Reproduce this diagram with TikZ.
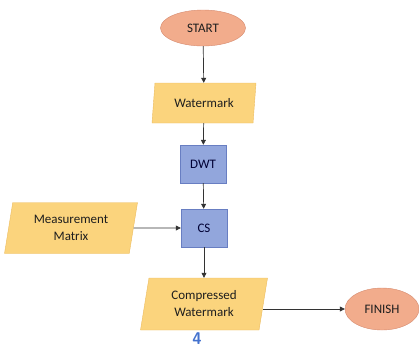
\documentclass[tikz,border=0pt]{standalone}
\usepackage{fontspec}
\setmainfont{Carlito}
\usetikzlibrary{shapes,arrows.meta}

\definecolor{termFill}{RGB}{242,172,140}
\definecolor{termLine}{RGB}{214,138,110}
\definecolor{ioFill}{RGB}{251,212,125}
\definecolor{ioLine}{RGB}{236,188,96}
\definecolor{procFill}{RGB}{146,166,220}
\definecolor{procLine}{RGB}{104,126,194}
\definecolor{txtDark}{RGB}{30,30,30}
\definecolor{numBlue}{RGB}{68,114,206}

\begin{document}
\begin{tikzpicture}[x=1pt,y=-1pt]
		\useasboundingbox (0,0) rectangle (419,349);
		\begin{scope}
            [
                every node/.style={font=\fontsize{13}{17}\selectfont, text=txtDark, align=center},
                styleTerm/.style={
					draw=termLine, fill=termFill, ellipse, inner sep=0pt
					},
				styleIO/.style={
					draw=ioLine, fill=ioFill, trapezium, inner sep=0pt,
					trapezium left angle=72, trapezium right angle=108,
					trapezium stretches body
					},
				styleProc/.style={draw=procLine, fill=procFill, minimum width=46, minimum height=38, text=black!80!blue},
            ]
			\node(start)[styleTerm, minimum width=85, minimum height=36] at (203,28) {START};
			\node(wm)[styleIO, minimum width=104, minimum height=40] at (204,103) {Watermark};
			\node(dwt)[styleProc] at (203,164) {DWT};
			\node(cs)[styleProc] at (204,228) {CS};
			\node(mm)[styleIO, minimum width=133, minimum height=51] at (71,228) {Measurement\\Matrix};
			\node(cw)[styleIO, minimum width=127, minimum height=52] at (204,304) {Compressed\\Watermark};
			\node(finish)[styleTerm, minimum width=74, minimum height=42] at (382,309) {FINISH};

			\node(pagenum)[font=\fontsize{17}{17}\bfseries\sffamily, text=numBlue, inner sep=0pt] at (197,339) {4};
		\end{scope}
		\begin{scope}
            [->, >={Triangle[length=5pt,width=5pt]}, draw=black!80, line width=0.7pt]
            \path
			(start) edge (wm)
			(wm) edge (dwt)
			(dwt) edge (cs)
			(mm) edge (cs)
			(cs) edge (cw)
			(cw.east |- finish) edge (finish);
		\end{scope}
    \end{tikzpicture}
\end{document}
